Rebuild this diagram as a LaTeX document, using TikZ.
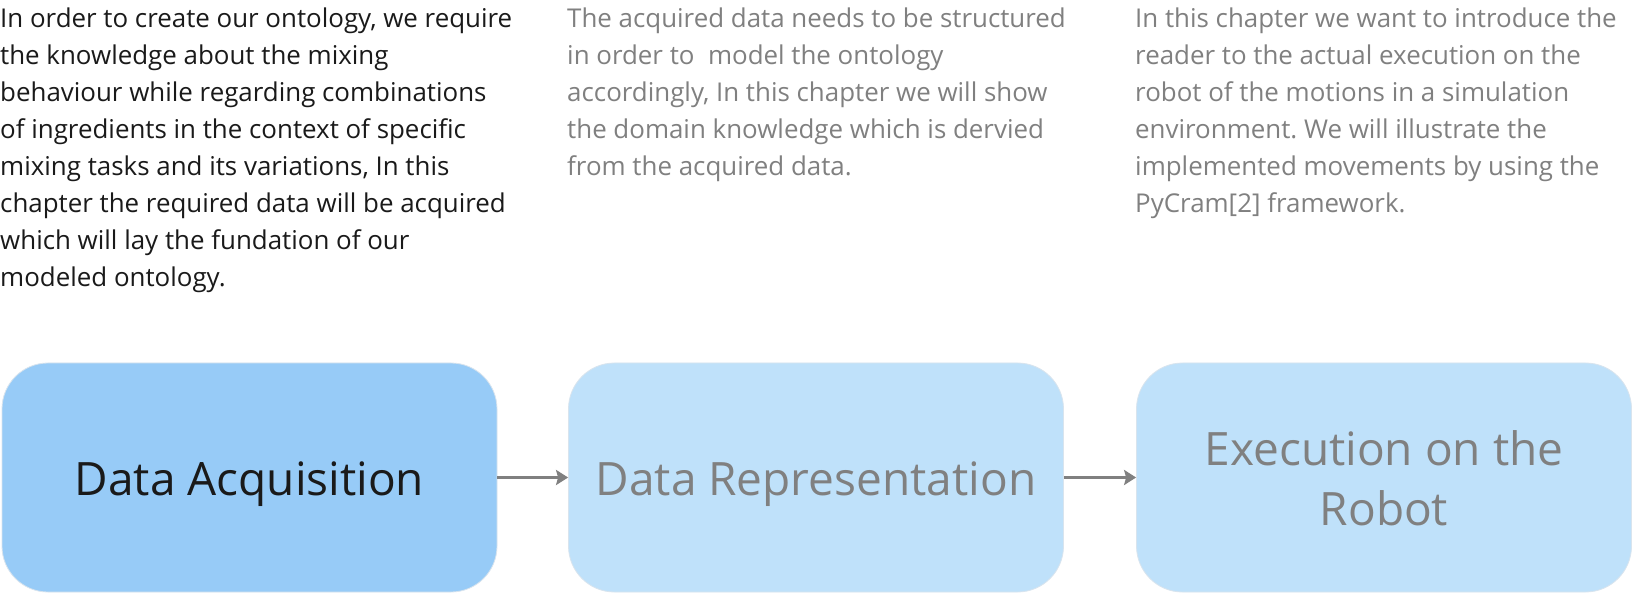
\documentclass[tikz,border=0pt]{standalone}
\usepackage{fontspec}
\setmainfont{Open Sans}
\usetikzlibrary{arrows.meta}
\definecolor{darktext}{HTML}{1A1A1A}
\definecolor{greytext}{HTML}{808080}
\definecolor{boxdark}{HTML}{97CBF7}
\definecolor{boxlight}{HTML}{BFE1FA}
\definecolor{boxedge}{HTML}{D8E4EE}
\frenchspacing
\tikzset{
  chapterbox/.style={rectangle, rounded corners=46pt, minimum width=495pt,
    minimum height=229pt, inner sep=0pt, draw=boxedge, line width=0.8pt,
    font=\fontsize{46}{60}\selectfont, align=center},
  firstbox/.style={chapterbox, fill=boxdark, text=darktext},
  otherbox/.style={chapterbox, fill=boxlight, text=greytext},
  desc/.style={anchor=base west, inner sep=0pt},
  flow/.style={draw=greytext, line width=3pt, -{Stealth[length=12pt,width=15pt,inset=2pt]}}
}
\newcommand{\desctext}[1]{\parbox[t]{560pt}{\raggedright\frenchspacing\fontsize{25.9}{37.1}\selectfont #1}}
\begin{document}
\begin{tikzpicture}[x=1pt,y=-1pt]
\useasboundingbox (0,0) rectangle (1641,609);
\fill[white] (0,0) rectangle (1641,609);

\node[firstbox, text height=35pt, text depth=0pt] (acq) at (249.5,477.5) {Data Acquisition};
\node[otherbox, text height=35pt, text depth=0pt] (rep) at (816,477.5) {Data Representation};
\node[otherbox, text height=95pt, text depth=0pt] (exe) at (1384,477.5) {Execution on the\\Robot};

\draw[flow] (acq.east) -- (rep.west);
\draw[flow] (rep.east) -- (exe.west);

\node[desc, text=darktext] (dacq) at (0,27.3) {\desctext{In order to create our ontology, we require\\
the knowledge about the mixing\\
behaviour while regarding combinations\\
of ingredients in the context of specific\\
mixing tasks and its variations, In this\\
chapter the required data will be acquired\\
which will lay the fundation of our\\
modeled ontology.}};

\node[desc, text=greytext] (drep) at (567,27.3) {\desctext{The acquired data needs to be structured\\
in order to\ \ model the ontology\\
accordingly, In this chapter we will show\\
the domain knowledge which is dervied\\
from the acquired data.}};

\node[desc, text=greytext] (dexe) at (1135,27.3) {\desctext{In this chapter we want to introduce the\\
reader to the actual execution on the\\
robot of the motions in a simulation\\
environment. We will illustrate the\\
implemented movements by using the\\
PyCram[2] framework.}};
\end{tikzpicture}
\end{document}
